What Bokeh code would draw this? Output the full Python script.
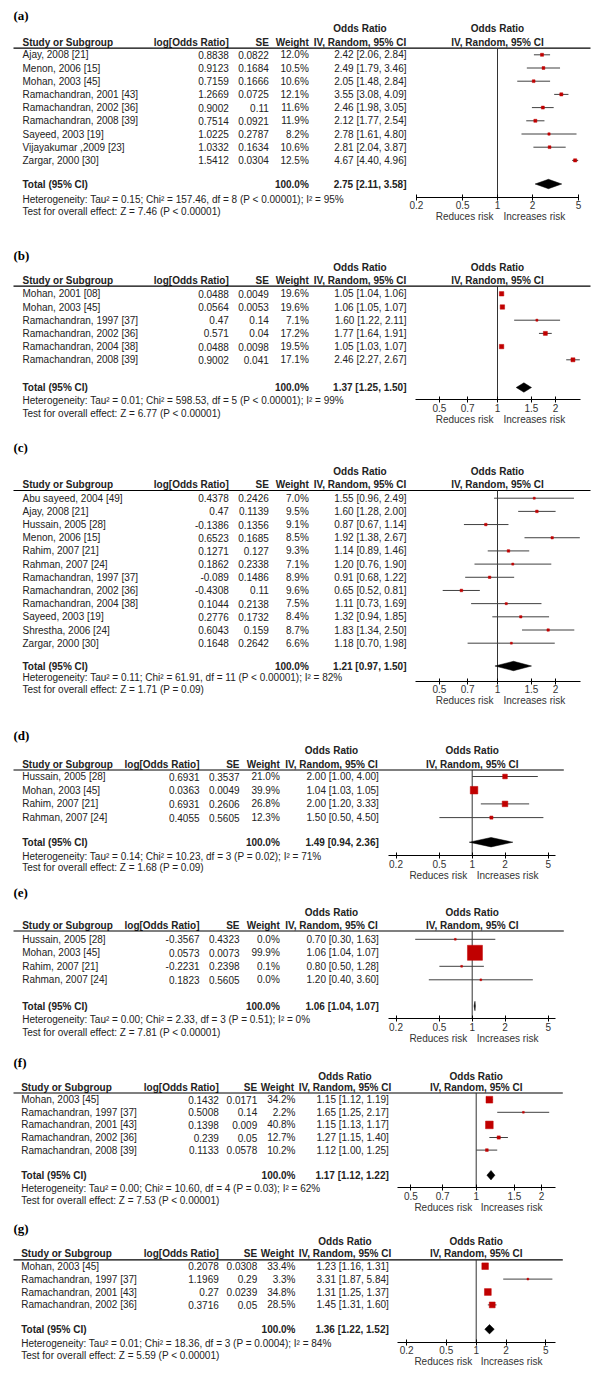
import math
from bokeh.plotting import figure
from bokeh.models import Range1d, LogScale, LogAxis, FixedTicker, CustomJSTickFormatter
from bokeh.embed import file_html
from bokeh.resources import INLINE
from bokeh.core.properties import value

# ------------------------------------------------------------------ data
studies_a = ["Ajay, 2008 [21]", "Menon, 2006 [15]", "Mohan, 2003 [45]", "Ramachandran, 2001 [43]",
             "Ramachandran, 2002 [36]", "Ramachandran, 2008 [39]", "Sayeed, 2003 [19]",
             "Vijayakumar ,2009 [23]", "Zargar, 2000 [30]"]
logor_a = [0.8838, 0.9123, 0.7159, 1.2669, 0.9002, 0.7514, 1.0225, 1.0332, 1.5412]
se_a = [0.0822, 0.1684, 0.1666, 0.0725, 0.11, 0.0921, 0.2787, 0.1634, 0.0304]
weight_a = [12.0, 10.5, 10.6, 12.1, 11.6, 11.9, 8.2, 10.6, 12.5]
or_a = [2.42, 2.49, 2.05, 3.55, 2.46, 2.12, 2.78, 2.81, 4.67]
lo_a = [2.06, 1.79, 1.48, 3.08, 1.98, 1.77, 1.61, 2.04, 4.40]
hi_a = [2.84, 3.46, 2.84, 4.09, 3.05, 2.54, 4.80, 3.87, 4.96]
total_a = [2.75, 2.11, 3.58]
het_a = "Heterogeneity: Tau\u00b2 = 0.15; Chi\u00b2 = 157.46, df = 8 (P < 0.00001); I\u00b2 = 95%"
test_a = "Test for overall effect: Z = 7.46 (P < 0.00001)"

studies_b = ["Mohan, 2001 [08]", "Mohan, 2003 [45]", "Ramachandran, 1997 [37]", "Ramachandran, 2002 [36]",
             "Ramachandran, 2004 [38]", "Ramachandran, 2008 [39]"]
logor_b = [0.0488, 0.0564, 0.47, 0.571, 0.0488, 0.9002]
se_b = [0.0049, 0.0053, 0.14, 0.04, 0.0098, 0.041]
weight_b = [19.6, 19.6, 7.1, 17.2, 19.5, 17.1]
or_b = [1.05, 1.06, 1.60, 1.77, 1.05, 2.46]
lo_b = [1.04, 1.05, 1.22, 1.64, 1.03, 2.27]
hi_b = [1.06, 1.07, 2.11, 1.91, 1.07, 2.67]
total_b = [1.37, 1.25, 1.50]
het_b = "Heterogeneity: Tau\u00b2 = 0.01; Chi\u00b2 = 598.53, df = 5 (P < 0.00001); I\u00b2 = 99%"
test_b = "Test for overall effect: Z = 6.77 (P < 0.00001)"

studies_c = ["Abu sayeed, 2004 [49]", "Ajay, 2008 [21]", "Hussain, 2005 [28]", "Menon, 2006 [15]",
             "Rahim, 2007 [21]", "Rahman, 2007 [24]", "Ramachandran, 1997 [37]", "Ramachandran, 2002 [36]",
             "Ramachandran, 2004 [38]", "Sayeed, 2003 [19]", "Shrestha, 2006 [24]", "Zargar, 2000 [30]"]
logor_c = [0.4378, 0.47, -0.1386, 0.6523, 0.1271, 0.1862, -0.089, -0.4308, 0.1044, 0.2776, 0.6043, 0.1648]
se_c = [0.2426, 0.1139, 0.1356, 0.1685, 0.127, 0.2338, 0.1486, 0.11, 0.2138, 0.1732, 0.159, 0.2642]
weight_c = [7.0, 9.5, 9.1, 8.5, 9.3, 7.1, 8.9, 9.6, 7.5, 8.4, 8.7, 6.6]
or_c = [1.55, 1.60, 0.87, 1.92, 1.14, 1.20, 0.91, 0.65, 1.11, 1.32, 1.83, 1.18]
lo_c = [0.96, 1.28, 0.67, 1.38, 0.89, 0.76, 0.68, 0.52, 0.73, 0.94, 1.34, 0.70]
hi_c = [2.49, 2.00, 1.14, 2.67, 1.46, 1.90, 1.22, 0.81, 1.69, 1.85, 2.50, 1.98]
total_c = [1.21, 0.97, 1.50]
het_c = "Heterogeneity: Tau\u00b2 = 0.11; Chi\u00b2 = 61.91, df = 11 (P < 0.00001); I\u00b2 = 82%"
test_c = "Test for overall effect: Z = 1.71 (P = 0.09)"

studies_d = ["Hussain, 2005 [28]", "Mohan, 2003 [45]", "Rahim, 2007 [21]", "Rahman, 2007 [24]"]
logor_d = [0.6931, 0.0363, 0.6931, 0.4055]
se_d = [0.3537, 0.0049, 0.2606, 0.5605]
weight_d = [21.0, 39.9, 26.8, 12.3]
or_d = [2.00, 1.04, 2.00, 1.50]
lo_d = [1.00, 1.03, 1.20, 0.50]
hi_d = [4.00, 1.05, 3.33, 4.50]
total_d = [1.49, 0.94, 2.36]
het_d = "Heterogeneity: Tau\u00b2 = 0.14; Chi\u00b2 = 10.23, df = 3 (P = 0.02); I\u00b2 = 71%"
test_d = "Test for overall effect: Z = 1.68 (P = 0.09)"

studies_e = ["Hussain, 2005 [28]", "Mohan, 2003 [45]", "Rahim, 2007 [21]", "Rahman, 2007 [24]"]
logor_e = [-0.3567, 0.0573, -0.2231, 0.1823]
se_e = [0.4323, 0.0073, 0.2398, 0.5605]
weight_e = [0.0, 99.9, 0.1, 0.0]
or_e = [0.70, 1.06, 0.80, 1.20]
lo_e = [0.30, 1.04, 0.50, 0.40]
hi_e = [1.63, 1.07, 1.28, 3.60]
total_e = [1.06, 1.04, 1.07]
het_e = "Heterogeneity: Tau\u00b2 = 0.00; Chi\u00b2 = 2.33, df = 3 (P = 0.51); I\u00b2 = 0%"
test_e = "Test for overall effect: Z = 7.81 (P < 0.00001)"

studies_f = ["Mohan, 2003 [45]", "Ramachandran, 1997 [37]", "Ramachandran, 2001 [43]",
             "Ramachandran, 2002 [36]", "Ramachandran, 2008 [39]"]
logor_f = [0.1432, 0.5008, 0.1398, 0.239, 0.1133]
se_f = [0.0171, 0.14, 0.009, 0.05, 0.0578]
weight_f = [34.2, 2.2, 40.8, 12.7, 10.2]
or_f = [1.15, 1.65, 1.15, 1.27, 1.12]
lo_f = [1.12, 1.25, 1.13, 1.15, 1.00]
hi_f = [1.19, 2.17, 1.17, 1.40, 1.25]
total_f = [1.17, 1.12, 1.22]
het_f = "Heterogeneity: Tau\u00b2 = 0.00; Chi\u00b2 = 10.60, df = 4 (P = 0.03); I\u00b2 = 62%"
test_f = "Test for overall effect: Z = 7.53 (P < 0.00001)"

studies_g = ["Mohan, 2003 [45]", "Ramachandran, 1997 [37]", "Ramachandran, 2001 [43]",
             "Ramachandran, 2002 [36]"]
logor_g = [0.2078, 1.1969, 0.27, 0.3716]
se_g = [0.0308, 0.29, 0.0239, 0.05]
weight_g = [33.4, 3.3, 34.8, 28.5]
or_g = [1.23, 3.31, 1.31, 1.45]
lo_g = [1.16, 1.87, 1.25, 1.31]
hi_g = [1.31, 5.84, 1.37, 1.60]
total_g = [1.36, 1.22, 1.52]
het_g = "Heterogeneity: Tau\u00b2 = 0.01; Chi\u00b2 = 18.36, df = 3 (P = 0.0004); I\u00b2 = 84%"
test_g = "Test for overall effect: Z = 5.59 (P < 0.00001)"

ticks_wide = [0.2, 0.5, 1, 2, 5]
ticks_narrow = [0.5, 0.7, 1, 1.5, 2]
panel_labels = ["(a)", "(b)", "(c)", "(d)", "(e)", "(f)", "(g)"]

PANELS = [
    dict(key="a", studies=studies_a, logor=logor_a, se=se_a, weight=weight_a, orv=or_a, lo=lo_a, hi=hi_a,
         total=total_a, het=het_a, test=test_a, ticks=ticks_wide),
    dict(key="b", studies=studies_b, logor=logor_b, se=se_b, weight=weight_b, orv=or_b, lo=lo_b, hi=hi_b,
         total=total_b, het=het_b, test=test_b, ticks=ticks_narrow),
    dict(key="c", studies=studies_c, logor=logor_c, se=se_c, weight=weight_c, orv=or_c, lo=lo_c, hi=hi_c,
         total=total_c, het=het_c, test=test_c, ticks=ticks_narrow),
    dict(key="d", studies=studies_d, logor=logor_d, se=se_d, weight=weight_d, orv=or_d, lo=lo_d, hi=hi_d,
         total=total_d, het=het_d, test=test_d, ticks=ticks_wide),
    dict(key="e", studies=studies_e, logor=logor_e, se=se_e, weight=weight_e, orv=or_e, lo=lo_e, hi=hi_e,
         total=total_e, het=het_e, test=test_e, ticks=ticks_wide),
    dict(key="f", studies=studies_f, logor=logor_f, se=se_f, weight=weight_f, orv=or_f, lo=lo_f, hi=hi_f,
         total=total_f, het=het_f, test=test_f, ticks=ticks_narrow),
    dict(key="g", studies=studies_g, logor=logor_g, se=se_g, weight=weight_g, orv=or_g, lo=lo_g, hi=hi_g,
         total=total_g, het=het_g, test=test_g, ticks=ticks_wide),
]

# ------------------------------------------------------------------ layout (page pixel positions)
COLS = {
    "wide":   dict(name=22, lor=228.3, se=268.3, w=308.3, orh=359.5, orr=406, lstart=13, lend=590),
    "narrow": dict(name=21.7, lor=199, se=239, w=279.3, orh=331, orr=378.3, lstart=13, lend=563.3),
    "mid":    dict(name=20.7, lor=218.3, se=256.7, w=295, orh=344.5, orr=388.3, lstart=13, lend=562.3),
}
LAYOUT = {
    "a": dict(label=15, h1=28, h2=42, line=47.7, row0=54.3, step=13.2, total=183.5, het=198.5, test=211,
              axis=196.7, cols="wide", x1=497, D=116, bounds=(0.2, 5), off=(-4, 6)),
    "b": dict(label=255, h1=267, h2=280, line=285.7, row0=293.3, step=13.2, total=387, het=400, test=413.3,
              axis=399.3, cols="wide", x1=497, D=193, bounds=(0.375, 2.7), off=(-4, 6)),
    "c": dict(label=447.3, h1=471, h2=484, line=490, row0=497.7, step=13.18, total=665.5, het=677.3,
              test=689, axis=680.7, cols="wide", x1=497, D=193, bounds=(0.375, 2.7), off=(-4, 6)),
    "d": dict(label=735, h1=750, h2=764, line=769.5, row0=776, step=13.7, total=841.7, het=856, test=867,
              axis=855, cols="narrow", x1=471.7, D=109, bounds=(0.17, 5.8), off=(-5, 4.5)),
    "e": dict(label=891.7, h1=911.7, h2=925, line=930.5, row0=938.8, step=13.5, total=1005.5, het=1019.3,
              test=1031.7, axis=1018.3, cols="narrow", x1=471.7, D=109, bounds=(0.17, 5.8), off=(-5, 4.5)),
    "f": dict(label=1061.7, h1=1076, h2=1086.5, line=1092.5, row0=1099.2, step=12.6, total=1174.7,
              het=1187.7, test=1200, axis=1187.3, cols="mid", x1=475.7, D=217, bounds=(0.435, 2.32),
              off=(-4, 4.5)),
    "g": dict(label=1228.3, h1=1240.7, h2=1252.7, line=1259.3, row0=1265.7, step=12.9, total=1328.7,
              het=1343.3, test=1355, axis=1341.7, cols="mid", x1=475.7, D=99.4, bounds=(0.163, 6.3),
              off=(-4, 4.5)),
}

X0, X1, Y0, Y1 = 0, 600, 0, 1373
TXT = "#222222"
RED = "#c00000"
SANS = value("Liberation Sans")
SERIF = value("Liberation Serif")

p = figure(width=X1 - X0, height=Y1 - Y0, x_range=Range1d(X0, X1), y_range=Range1d(Y1, Y0),
           output_backend="svg", toolbar_location=None, x_axis_location=None, y_axis_location=None,
           min_border=0, outline_line_color=None, background_fill_color="white",
           border_fill_color="white")
p.grid.visible = False

extra_x_scales = {}


def put(x, y, texts, align="left", bold=False, color=TXT, size="10px", font=SANS, **kw):
    p.text(x=x, y=y, text=texts, text_align=align, text_baseline="middle", text_font=font,
           text_font_size=size, text_font_style="bold" if bold else "normal", text_color=color, **kw)


for lab, P in zip(panel_labels, PANELS):
    k = P["key"]
    L = LAYOUT[k]
    C = COLS[L["cols"]]
    xr, yr = "x_" + k, "y_" + k
    p.extra_x_ranges[xr] = Range1d(10 ** ((X0 - L["x1"]) / L["D"]), 10 ** ((X1 - L["x1"]) / L["D"]))
    extra_x_scales[xr] = LogScale()
    p.extra_y_ranges[yr] = Range1d((Y1 - L["row0"]) / L["step"], (Y0 - L["row0"]) / L["step"])

    n = len(P["studies"])
    rows = list(range(n))

    # panel label
    put(13, L["label"], [lab], bold=True, size="13px", font=SERIF, color="#000000")

    # headers
    put(C["orh"], L["h1"], ["Odds Ratio"], align="center", bold=True)
    put(1, L["h1"], ["Odds Ratio"], align="center", bold=True, x_range_name=xr)
    put(C["name"], L["h2"], ["Study or Subgroup"], bold=True)
    put(C["lor"], L["h2"], ["log[Odds Ratio]"], align="right", bold=True)
    put(C["se"], L["h2"], ["SE"], align="right", bold=True)
    put(C["w"] - (1.5 if L["cols"] == "mid" else 0), L["h2"], ["Weight"], align="right", bold=True)
    put(C["orh"], L["h2"], ["IV, Random, 95% CI"], align="center", bold=True)
    put(1, L["h2"], ["IV, Random, 95% CI"], align="center", bold=True, x_range_name=xr)
    p.segment(x0=[C["lstart"]], x1=[C["lend"]], y0=[L["line"]], y1=[L["line"]], line_color="black",
              line_width=1.2)

    # study rows
    put(C["name"], rows, P["studies"], y_range_name=yr)
    put(C["lor"], rows, [str(v) for v in P["logor"]], align="right", y_range_name=yr)
    put(C["se"], rows, [str(v) for v in P["se"]], align="right", y_range_name=yr)
    put(C["w"], rows, ["%.1f%%" % v for v in P["weight"]], align="right", y_range_name=yr)
    put(C["orr"], rows, ["%.2f [%.2f, %.2f]" % t for t in zip(P["orv"], P["lo"], P["hi"])],
        align="right", y_range_name=yr)

    # total + footnotes
    tot = P["total"]
    put(C["name"], L["total"], ["Total (95% CI)"], bold=True)
    put(C["w"], L["total"], ["100.0%"], align="right", bold=True)
    put(C["orr"], L["total"], ["%.2f [%.2f, %.2f]" % tuple(tot)], align="right", bold=True)
    put(C["name"], L["het"], [P["het"]])
    put(C["name"], L["test"], [P["test"]])

    # forest plot
    p.segment(x0=[1], x1=[1], y0=[L["line"]], y1=[L["axis"]], line_color="#333333", line_width=1,
              x_range_name=xr)
    p.segment(x0=P["lo"], x1=P["hi"], y0=rows, y1=rows, line_color="#404040", line_width=1,
              x_range_name=xr, y_range_name=yr)
    sizes = [max(1.8, 0.475 * w ** 0.75) for w in P["weight"]]
    p.scatter(x=P["orv"], y=rows, size=sizes, marker="square", fill_color=RED, line_color=RED,
              line_width=0.5, x_range_name=xr, y_range_name=yr)
    rt = (L["total"] - L["row0"]) / L["step"]
    dh = 4.7 / L["step"]
    p.patch(x=[tot[1], tot[0], tot[2], tot[0]], y=[rt, rt - dh, rt, rt + dh], fill_color="black",
            line_color="black", line_width=0.5, x_range_name=xr, y_range_name=yr)

    ax = LogAxis(x_range_name=xr, fixed_location=L["axis"], ticker=FixedTicker(ticks=P["ticks"]),
                 formatter=CustomJSTickFormatter(code="return tick.toString();"), bounds=L["bounds"],
                 axis_line_color="black", axis_line_width=1, major_tick_line_color="black",
                 major_tick_in=3, major_tick_out=3, minor_tick_in=0, minor_tick_out=0,
                 major_label_standoff=1, major_label_text_font="Liberation Sans",
                 major_label_text_font_size="10px", major_label_text_color="#333333")
    p.add_layout(ax, "below")

    ry = L["axis"] + 19.5
    put(1, ry, ["Reduces risk"], align="right", color="#333333", x_range_name=xr, x_offset=L["off"][0])
    put(1, ry, ["Increases risk"], align="left", color="#333333", x_range_name=xr, x_offset=L["off"][1])

p.extra_x_scales = extra_x_scales

open("out.html", "w").write(file_html(p, INLINE))
